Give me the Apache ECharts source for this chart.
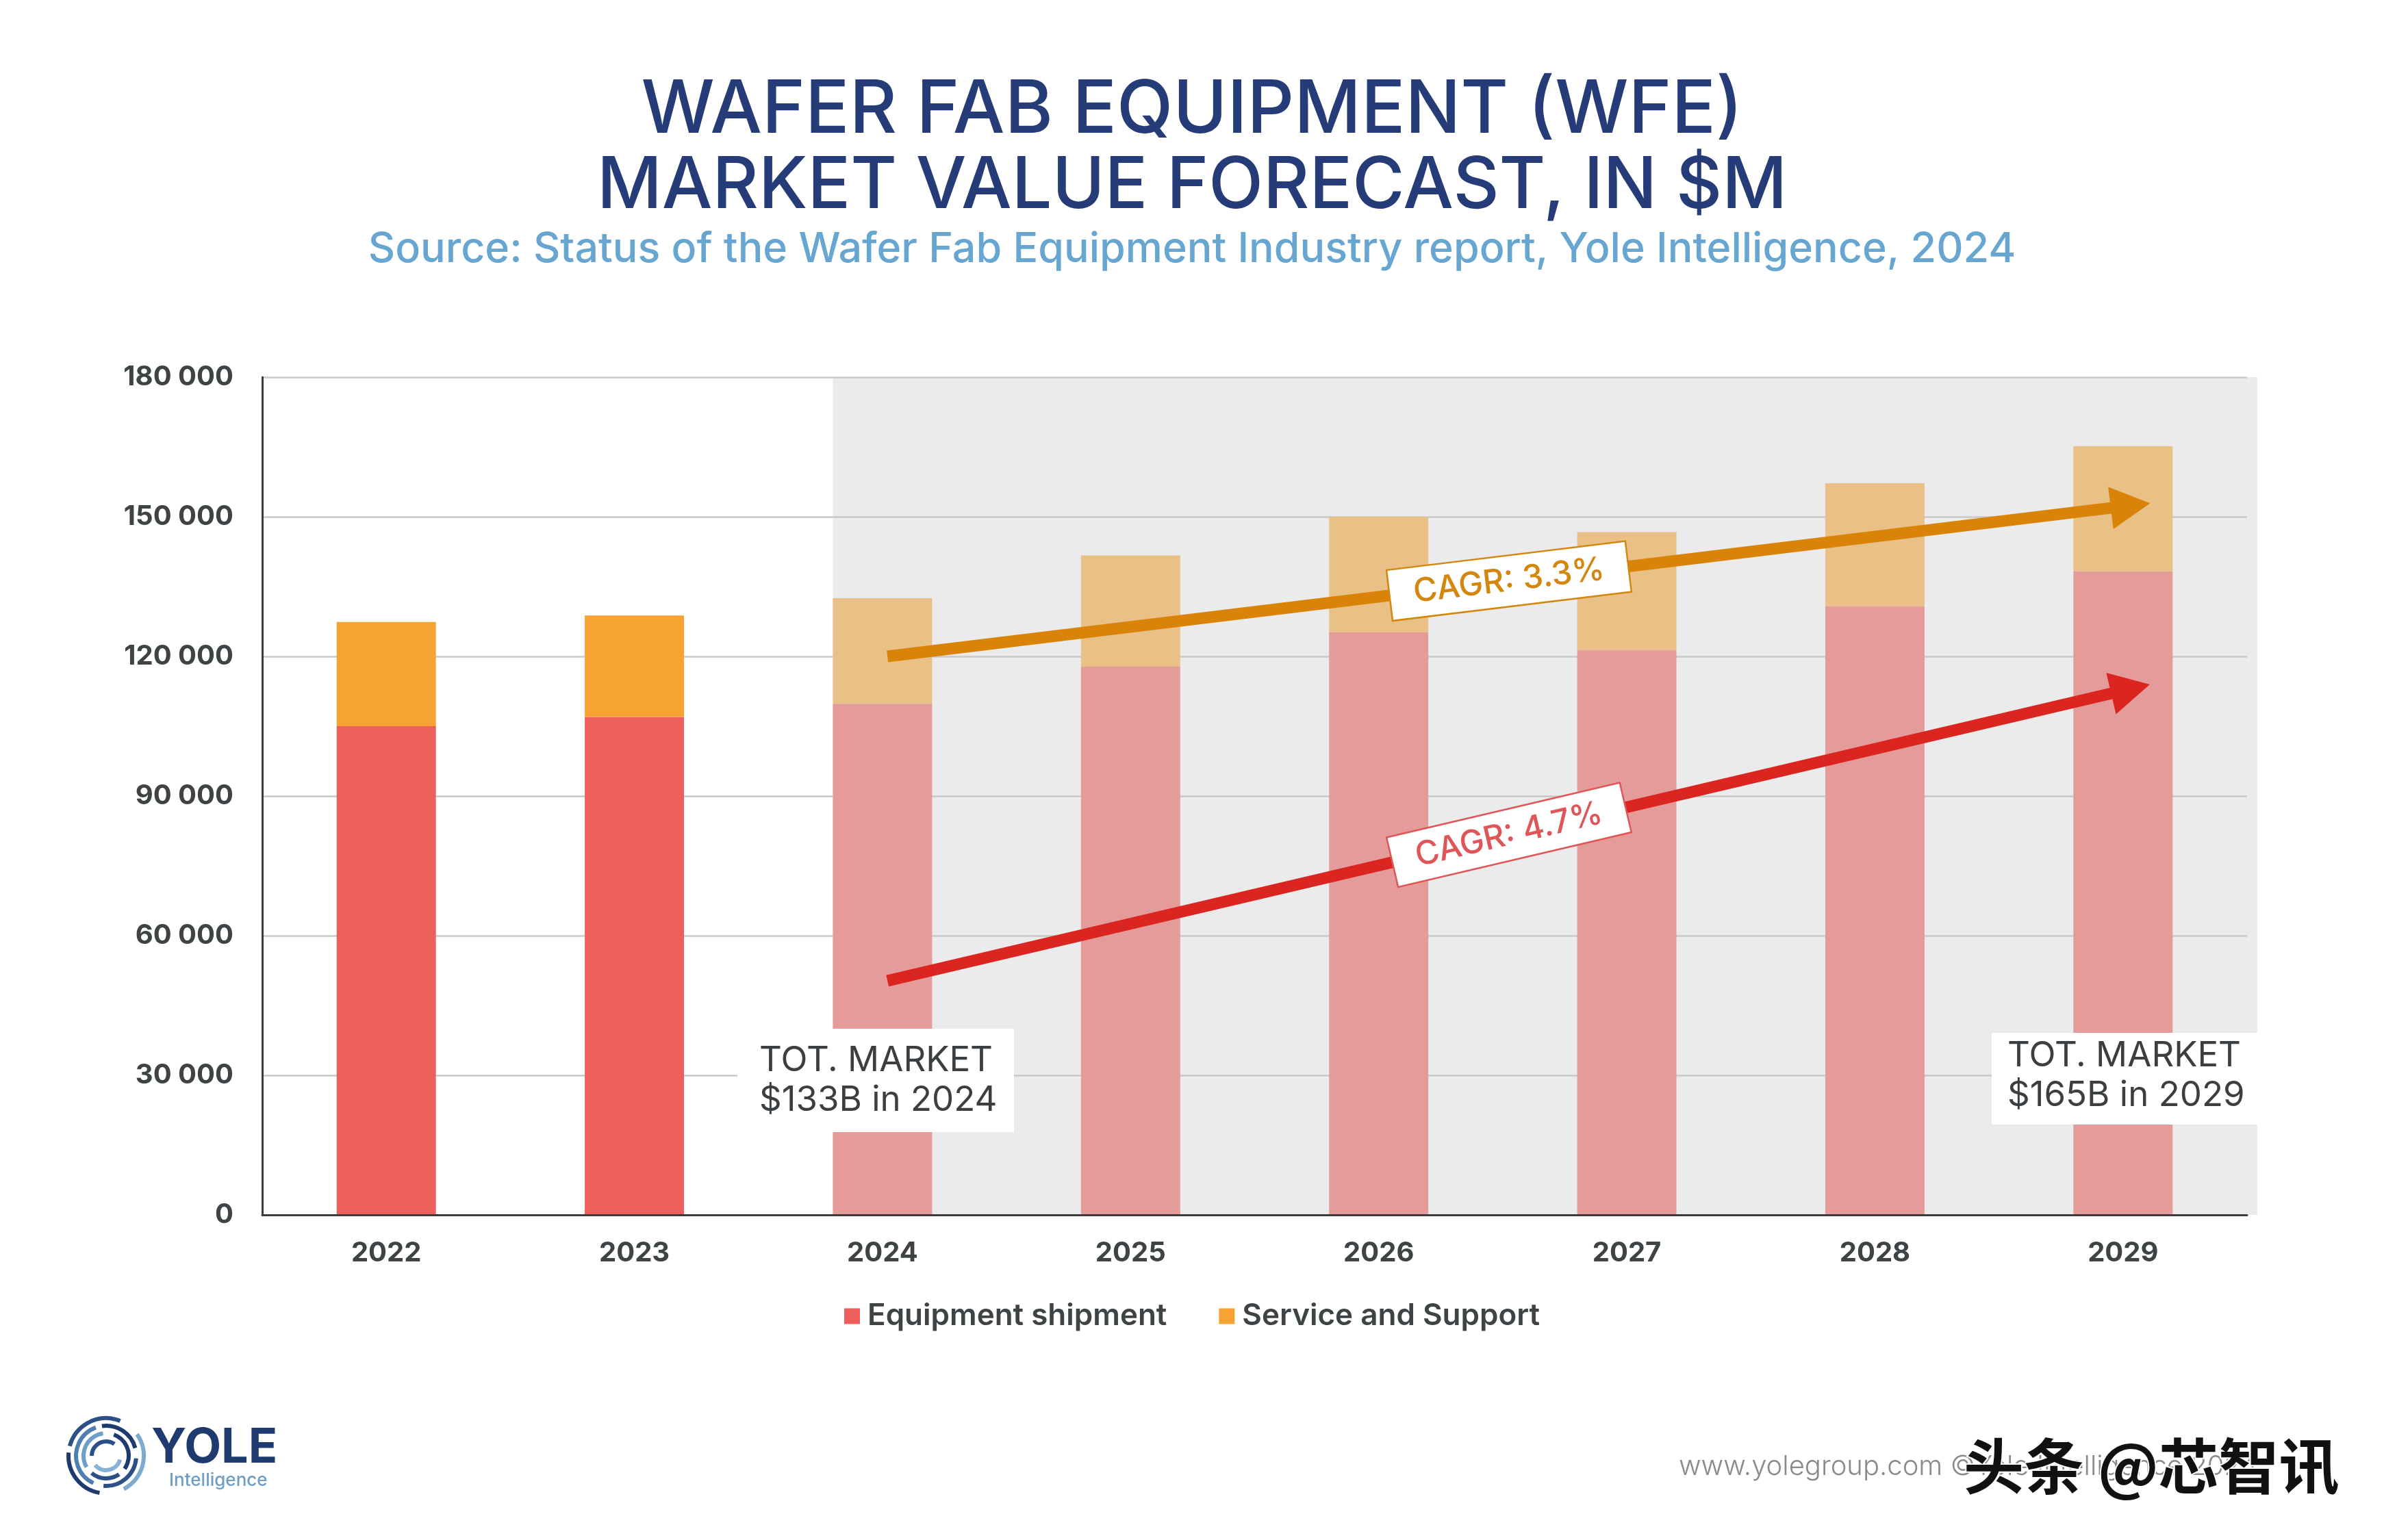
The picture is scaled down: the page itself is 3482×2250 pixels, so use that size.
<!DOCTYPE html>
<html>
<head>
<meta charset="utf-8">
<script src="https://cdn.jsdelivr.net/npm/echarts@6/dist/echarts.min.js"></script>
<style>
html,body{margin:0;padding:0;background:#ffffff;}
#chart{width:3482px;height:2250px;}
</style>
</head>
<body>
<div id="chart"></div>
<script>
// ---------- data ----------
const years = ['2022', '2023', '2024', '2025', '2026', '2027', '2028', '2029'];
const equipmentShipment = [105000, 107000, 109800, 117800, 125200, 121400, 130800, 138300];
const serviceSupport = [22400, 21800, 22700, 23900, 24800, 25300, 26400, 26900];
const forecastFromIndex = 2;           // 2024 onwards is forecast
const yTicks = [0, 30000, 60000, 90000, 120000, 150000, 180000];
// CAGR arrows: [x (category index), value] start / end
const cagrService = { label: 'CAGR: 3.3%', from: [2.02, 120000], to: [7.03, 152400] };
const cagrEquipment = { label: 'CAGR: 4.7%', from: [2.02, 50300], to: [7.03, 113000] };
const totLabels = [['TOT. MARKET', '$133B in 2024'], ['TOT. MARKET', '$165B in 2029']];

// ---------- colours ----------
const C = {
  eqActual: '#EC5F5A', svActual: '#F6A334',
  eqForecast: '#E59B9A', svForecast: '#E9C086',
  band: '#EBEBEB', grid: '#C8C8C8', axis: '#3C3C3C', label: '#3E4346',
  orange: '#DA8309', red: '#DA2520', orangeText: '#D4870F', redText: '#DF5659',
  navy: '#263C78', sky: '#68A6D2'
};
const FONT = 'Inter, "Open Sans", "Noto Sans", sans-serif';

const chart = echarts.init(document.getElementById('chart'), null, { renderer: 'canvas' });

function styled(values, actualColor, forecastColor) {
  return values.map((v, i) => ({
    value: v,
    itemStyle: { color: i >= forecastFromIndex ? forecastColor : actualColor }
  }));
}

function arrow(def, color, textColor) {
  return [
    {
      coord: def.from,
      lineStyle: { color: color, width: 17, type: 'solid', opacity: 1 },
      label: {
        show: true, position: 'middle', formatter: def.label, distance: 0,
        verticalAlign: 'middle', color: textColor, fontFamily: FONT, fontWeight: 500,
        fontSize: 48, backgroundColor: '#ffffff', borderColor: textColor, borderWidth: 2.5,
        padding: [13, 34, 11, 34]
      }
    },
    { coord: def.to }
  ];
}

const option = {
  backgroundColor: '#ffffff',
  animation: false,
  grid: { left: 383, right: 200, top: 551, bottom: 475, containLabel: false },
  legend: {
    data: ['Equipment shipment', 'Service and Support'],
    left: 'center', top: 1896,
    icon: 'rect', itemWidth: 23, itemHeight: 23, itemGap: 76,
    textStyle: { fontFamily: FONT, fontSize: 44, fontWeight: 600, color: C.label, padding: [0, 0, 0, 6] }
  },
  xAxis: [
    {
      type: 'category', data: years, boundaryGap: true,
      axisLine: { show: true, onZero: false, lineStyle: { color: C.axis, width: 3 } },
      axisTick: { show: false },
      axisLabel: { margin: 36, fontFamily: FONT, fontSize: 40, fontWeight: 700, color: C.label },
      splitLine: { show: false }, z: 3
    },
    { type: 'value', min: -0.5, max: 7.5, show: false }
  ],
  yAxis: [{
    type: 'value', min: yTicks[0], max: yTicks[yTicks.length - 1], interval: yTicks[1] - yTicks[0],
    axisLine: { show: true, onZero: false, lineStyle: { color: C.axis, width: 3 } },
    axisTick: { show: false },
    splitLine: { show: true, lineStyle: { color: C.grid, width: 2.5 } },
    axisLabel: {
      margin: 42, fontFamily: FONT, fontSize: 40, fontWeight: 700, color: C.label,
      formatter: v => v === 0 ? '0' : (v / 1000) + ' 000'
    }
  }],
  series: [
    {
      name: 'Equipment shipment', type: 'bar', stack: 'wfe', barWidth: '40%',
      itemStyle: { color: C.eqActual },
      data: styled(equipmentShipment, C.eqActual, C.eqForecast)
    },
    {
      name: 'Service and Support', type: 'bar', stack: 'wfe', barWidth: '40%',
      itemStyle: { color: C.svActual },
      data: styled(serviceSupport, C.svActual, C.svForecast)
    },
    {
      name: 'arrows', type: 'line', xAxisIndex: 1, yAxisIndex: 0, data: [],
      silent: true,
      markLine: {
        silent: true, animation: false, z: 6,
        symbol: ['none', 'triangle'], symbolSize: [62, 58],
        data: [arrow(cagrService, C.orange, C.orangeText), arrow(cagrEquipment, C.red, C.redText)]
      }
    }
  ]
};
chart.setOption(option);

// ---------- decorations placed with the chart's own scales ----------
const px = v => chart.convertToPixel({ xAxisIndex: 1 }, v);
const py = v => chart.convertToPixel({ yAxisIndex: 0 }, v);
const bandLeft = px(forecastFromIndex - 0.2);
const bandRight = px(7.5) + 15;
const yTop = py(yTicks[yTicks.length - 1]);
const yBottom = py(0);

const graphics = [];
graphics.push({
  type: 'rect', z: -10, silent: true,
  shape: { x: bandLeft, y: yTop, width: bandRight - bandLeft, height: yBottom - yTop },
  style: { fill: C.band }
});

// titles
graphics.push({ type: 'text', z: 10, left: 'center', top: 108,
  style: { text: 'WAFER FAB EQUIPMENT (WFE)', fill: C.navy, font: '500 107px ' + FONT } });
graphics.push({ type: 'text', z: 10, left: 'center', top: 221,
  style: { text: 'MARKET VALUE FORECAST, IN $M', fill: C.navy, font: '500 104px ' + FONT } });
graphics.push({ type: 'text', z: 10, left: 'center', top: 334,
  style: { text: 'Source: Status of the Wafer Fab Equipment Industry report, Yole Intelligence, 2024', fill: C.sky, font: '500 61px ' + FONT } });

// TOT. MARKET boxes
function totBox(x, y, w, h, tx, ty, lines) {
  return {
    type: 'group', z: 20,
    children: [
      { type: 'rect', z: 20, shape: { x: x, y: y, width: w, height: h }, style: { fill: '#ffffff' } },
      { type: 'text', z: 21, x: tx, y: ty,
        style: { text: lines.join('\n'), fill: '#3B3F42', font: '400 51px ' + FONT, lineHeight: 58 } }
    ]
  };
}
graphics.push(totBox(1077, 1503, 404, 151, 1109, 1521, totLabels[0]));
graphics.push(totBox(2909, 1509, 389, 134, 2932, 1514, totLabels[1]));

// logo
const lc = [155, 2127];
const rings = [
  { r: 55, segs: [[100, 185, '#1F3A6E'], [195, 292, '#2C4F86'], [-35, 62, '#7FAAD0']] },
  { r: 44, segs: [[115, 250, '#4F7FB0'], [262, 345, '#1F3A6E'], [5, 95, '#2C4F86']] },
  { r: 33, segs: [[150, 262, '#6E9FCB'], [-70, 35, '#1F3A6E'], [55, 130, '#2C4F86']] },
  { r: 21, segs: [[180, 305, '#2C4F86'], [15, 140, '#86B2D8']] }
];
rings.forEach(rg => rg.segs.forEach(s => {
  graphics.push({ type: 'arc', z: 10, silent: true,
    shape: { cx: lc[0], cy: lc[1], r: rg.r, startAngle: s[0] * Math.PI / 180, endAngle: s[1] * Math.PI / 180, clockwise: true },
    style: { stroke: s[2], lineWidth: 6, fill: null } });
}));
graphics.push({ type: 'text', z: 10, x: 221, y: 2081,
  style: { text: 'YOLE', fill: '#1F3A6E', font: '700 70px ' + FONT } });
graphics.push({ type: 'text', z: 10, x: 247, y: 2150,
  style: { text: 'Intelligence', fill: '#6E9EC4', font: '500 26px ' + FONT } });

// footer
graphics.push({ type: 'text', z: 10, x: 2452, y: 2143,
  style: { text: 'www.yolegroup.com ©Yole Intelligence 2024', fill: '#8A8A8A', font: '300 40px ' + FONT, verticalAlign: 'middle' } });
graphics.push({ type: 'text', z: 11, x: 2868, y: 2142,
  style: { text: '头条 @芯智讯', fill: '#111111', font: '600 88px "Noto Sans CJK SC"', verticalAlign: 'middle',
    stroke: '#ffffff', lineWidth: 4 } });

chart.setOption({ graphic: graphics });
</script>
</body>
</html>
